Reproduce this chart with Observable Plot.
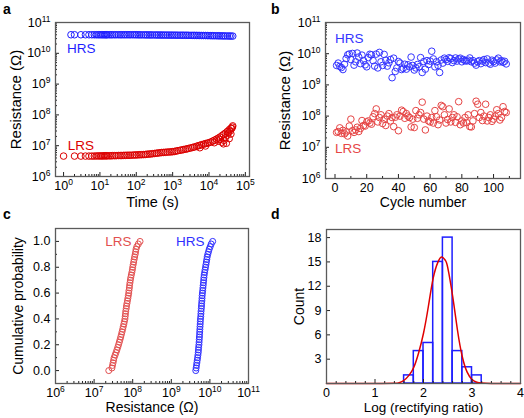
<!DOCTYPE html>
<html><head><meta charset="utf-8">
<script src="https://cdn.jsdelivr.net/npm/d3@7"></script>
<script src="https://cdn.jsdelivr.net/npm/@observablehq/plot@0.6"></script>
<style>
body{margin:0;background:#fff;}
#fig{position:relative;width:524px;height:418px;overflow:hidden;font-family:"Liberation Sans",Arial,sans-serif;}
#fig > div{position:absolute;line-height:0;}
#fig .lab{font-weight:bold;font-size:14px;line-height:14px;}
</style></head><body><div id="fig"></div>
<script>
// ---------- Panel a: retention ----------
const tLRS = [1,2,3,4,5,6,7,8,9,10,11,12,13,14,15,16,18,20,22,25,28,32,36,40,45,50,56,63,70,80,90,100,112,125,140,160,180,200,225,250,280,320,360,400,450,500,560,630,710,800,900,1000,1120,1250,1400,1600,1800,2000,2250,2500,2800,3200,3600,4000,4500,5000,5600,6300,7100,8000,9000,10000,11200,12500,14000,16000,18000,20000,22500,25000,28000,32000,36000,40000,45000];
const lrsA = [4.6e6,4.6e6,4.6e6,4.6e6,4.6e6,4.6e6,4.6e6,4.65e6,4.65e6,4.65e6,4.65e6,4.65e6,4.7e6,4.7e6,4.7e6,4.7e6,
  4.7e6,4.7e6,4.75e6,4.75e6,4.75e6,4.8e6,4.8e6,4.8e6,4.85e6,4.85e6,
  4.9e6,4.9e6,4.9e6,4.95e6,5.0e6,5.0e6,
  5.05e6,5.1e6,5.1e6,5.15e6,5.2e6,5.3e6,5.35e6,5.4e6,5.5e6,5.6e6,5.7e6,5.8e6,5.9e6,6.0e6,
  6.05e6,6.1e6,6.2e6,6.25e6,6.3e6,6.4e6,
  6.5e6,6.7e6,6.9e6,7.1e6,7.3e6,7.5e6,7.7e6,7.9e6,8.2e6,8.5e6,8.8e6,9.1e6,9.5e6,9.9e6,
  10.3e6,10.8e6,11.2e6,11.7e6,12.1e6,12.5e6,
  13.2e6,14.0e6,15.0e6,16.3e6,17.6e6,19.0e6,21.0e6,23.0e6,25.5e6,29e6,33e6,37e6,44e6];
const tLRSscatter = [5600,8000,14000,18000,20000,22500,25000,26000,28000,30000,32000,34000,36000,38000,40000,42000,44000];
const lrsScatter = [8.6e6,9.8e6,12.5e6,14e6,16e6,13e6,11.5e6,15e6,18e6,12e6,22e6,26e6,17e6,30e6,24e6,36e6,40e6];
const tHRS = [1.6,2,3,4,5,6,7,8,9,10,11,12,13,14,15,16,18,20,22,25,28,32,36,40,45,50,56,63,70,80,90,100,112,125,140,160,180,200,225,250,280,320,360,400,450,500,560,630,710,800,900,1000,1120,1250,1400,1600,1800,2000,2250,2500,2800,3200,3600,4000,4500,5000,5600,6300,7100,8000,9000,10000,11200,12500,14000,16000,18000,20000,22500,25000,28000,32000,36000,40000,45000];
const hrsA = [4.0e10,4.0e10,4.0e10,4.0e10,4.0e10,4.0e10,4.0e10,4.0e10,4.0e10,4.0e10,4.0e10,4.0e10,4.0e10,4.0e10,4.0e10,4.0e10,
  4.0e10,4.0e10,4.0e10,4.0e10,4.0e10,4.0e10,4.0e10,4.0e10,4.0e10,4.0e10,4.0e10,4.0e10,4.0e10,4.0e10,4.0e10,4.0e10,
  3.98e10,3.98e10,3.97e10,3.97e10,3.96e10,3.96e10,3.95e10,3.95e10,3.94e10,3.94e10,3.93e10,3.93e10,3.92e10,3.92e10,
  3.91e10,3.91e10,3.9e10,3.9e10,3.89e10,3.89e10,
  3.88e10,3.88e10,3.87e10,3.87e10,3.86e10,3.86e10,3.85e10,3.85e10,3.84e10,3.83e10,3.82e10,3.82e10,3.81e10,3.8e10,
  3.79e10,3.78e10,3.78e10,3.77e10,3.76e10,3.75e10,
  3.74e10,3.73e10,3.72e10,3.71e10,3.7e10,3.69e10,3.68e10,3.67e10,3.66e10,3.65e10,3.64e10,3.63e10,3.62e10];
const timeTicks = [1,10,100,1000,10000,100000];
const resTicks = [1e6,1e7,1e8,1e9,1e10,1e11];

// ---------- Panel b: endurance ----------
const cycles = [1,2,3,4,5,6,7,8,9,10,11,12,13,14,15,16,17,18,19,20,21,22,23,24,25,26,27,28,29,30,31,32,33,34,35,36,37,38,39,40,41,42,43,44,45,46,47,48,49,50,51,52,53,54,55,56,57,58,59,60,61,62,63,64,65,66,67,68,69,70,71,72,73,74,75,76,77,78,79,80,81,82,83,84,85,86,87,88,89,90,91,92,93,94,95,96,97,98,99,100,101,102,103,104,105,106,107,108];
const hrsB = [4.2e9,5.0e9,3.9e9,3.6e9,3.1e9,4.6e9,7.0e9,9.2e9,9.8e9,6.5e9,
  10.2e9,4.3e9,5.5e9,10.5e9,7.8e9,4.8e9,9.0e9,6.0e9,4.4e9,3.8e9,
  7.5e9,9.6e9,9.2e9,6.0e9,4.0e9,9.7e9,3.5e9,11.0e9,5.5e9,4.2e9,
  9.5e9,6.2e9,4.0e9,5.1e9,6.5e9,1.7e9,7.2e9,2.7e9,3.5e9,5.6e9,
  5.0e9,3.1e9,3.4e9,4.6e9,3.2e9,4.4e9,3.8e9,7.8e9,4.2e9,3.0e9,
  3.5e9,4.5e9,3.8e9,7.5e9,2.5e9,5.6e9,3.2e9,6.0e9,4.5e9,5.8e9,
  12.0e9,6.8e9,3.8e9,5.5e9,4.2e9,2.5e9,6.3e9,5.0e9,7.2e9,6.5e9,
  5.7e9,7.4e9,7.0e9,5.2e9,6.0e9,7.3e9,5.8e9,6.8e9,7.2e9,5.5e9,
  6.5e9,6.0e9,5.8e9,6.2e9,7.3e9,5.5e9,6.0e9,5.0e9,4.3e9,5.5e9,
  6.0e9,4.8e9,5.8e9,6.5e9,5.2e9,6.8e9,5.0e9,4.6e9,6.2e9,5.6e9,
  5.0e9,6.3e9,7.2e9,5.5e9,6.0e9,5.3e9,5.7e9,4.7e9];
const lrsB = [3.0e7,3.2e7,4.2e7,2.8e7,3.5e7,2.7e7,3.1e7,2.3e7,4.8e7,8.0e7,
  3.4e7,3.0e7,3.6e7,4.4e7,3.2e7,4.0e7,7.2e7,5.0e7,4.8e7,6.5e7,
  7.0e7,6.0e7,5.5e7,9.5e7,12.0e7,17.0e7,6.5e7,9.0e7,11.0e7,5.8e7,
  8.0e7,5.0e7,10.0e7,12.0e7,7.0e7,9.0e7,4.6e7,9.2e7,11.0e7,3.4e7,
  10.0e7,15.5e7,14.0e7,8.5e7,12.0e7,10.0e7,9.0e7,4.5e7,8.0e7,4.3e7,
  15.0e7,8.5e7,11.0e7,13.0e7,28.0e7,8.0e7,3.6e7,10.0e7,7.0e7,6.5e7,
  9.0e7,6.0e7,15.0e7,9.5e7,5.3e7,7.5e7,22.0e7,20.0e7,11.0e7,6.0e7,
  7.8e7,17.0e7,6.5e7,9.0e7,11.0e7,6.3e7,9.5e7,29.0e7,5.3e7,7.0e7,
  6.0e7,9.0e7,6.2e7,11.0e7,4.6e7,4.5e7,7.0e7,12.0e7,30.0e7,24.0e7,
  9.0e7,13.0e7,7.2e7,10.0e7,24.0e7,7.0e7,9.0e7,11.0e7,6.8e7,8.0e7,
  10.0e7,16.0e7,12.0e7,7.5e7,9.0e7,20.0e7,14.0e7,13.0e7];
const cycleTicks = [0,20,40,60,80,100];

// ---------- Panel c: cumulative probability ----------
const prob = [0,0.02,0.04,0.06,0.08,0.1,0.12,0.14,0.16,0.18,0.2,0.22,0.24,0.26,0.28,0.3,0.32,0.34,0.36,0.38,0.4,0.42,0.44,0.46,0.48,0.5,0.52,0.54,0.56,0.58,0.6,0.62,0.64,0.66,0.68,0.7,0.72,0.74,0.76,0.78,0.8,0.82,0.84,0.86,0.88,0.9,0.92,0.94,0.96,0.98,1.0];
const lrsC = [2.4e7,2.9e7,3.0e7,3.1e7,3.2e7,3.3e7,3.5e7,3.7e7,3.9e7,4.1e7,
  4.3e7,4.5e7,4.7e7,4.9e7,5.1e7,5.3e7,5.5e7,5.7e7,5.9e7,6.1e7,
  6.3e7,6.4e7,6.5e7,6.6e7,6.8e7,6.9e7,7.1e7,7.3e7,7.5e7,7.7e7,
  7.9e7,8.0e7,8.2e7,8.3e7,8.5e7,8.7e7,8.9e7,9.2e7,9.5e7,9.8e7,
  10.0e7,10.3e7,10.6e7,10.9e7,11.2e7,11.6e7,11.9e7,12.2e7,12.8e7,14.0e7,15.5e7];
const hrsC = [4.3e9,4.4e9,4.5e9,4.6e9,4.7e9,4.8e9,4.9e9,5.0e9,5.05e9,5.1e9,
  5.2e9,5.25e9,5.3e9,5.35e9,5.4e9,5.45e9,5.5e9,5.55e9,5.6e9,5.65e9,
  5.7e9,5.8e9,5.85e9,5.9e9,6.0e9,6.05e9,6.1e9,6.2e9,6.25e9,6.3e9,
  6.4e9,6.5e9,6.6e9,6.7e9,6.8e9,6.9e9,7.0e9,7.1e9,7.3e9,7.5e9,
  7.7e9,7.9e9,8.1e9,8.3e9,8.5e9,8.8e9,9.2e9,9.6e9,10.2e9,10.8e9,11.8e9];
const probTicks = [0,0.2,0.4,0.6,0.8,1.0];

// ---------- Panel d: histogram ----------
const binEdges = [1.6,1.8,2.0,2.2,2.4,2.6,2.8,3.0,3.2];
const counts = [1,4,5,15,18,4,2,1];
const fitX = [0,1.0,1.4,1.5,1.6,1.7,1.8,1.9,2.0,2.1,2.2,2.3,2.38,2.45,2.5,2.6,2.7,2.8,2.9,3.0,3.1,3.2,3.4,4.0];
const fitY = [0,0,0.02,0.1,0.4,1.0,2.0,3.8,6.2,9.5,13.0,15.0,15.6,15.2,14.3,10.8,6.6,3.3,1.4,0.5,0.15,0.05,0,0];
const logTicks = [0,1,2,3,4];
const countTicks = [3,6,9,12,15,18];

// ---------- helpers ----------
const FONT = '"Liberation Sans", Arial, sans-serif';
const pow10 = d => "10^" + Math.round(Math.log10(d));
function logMinor(lo, hi) { const o = []; for (let e = lo; e < hi; e++) for (let k = 2; k <= 9; k++) o.push(k * 10 ** e); return o; }
const style = {fontFamily: FONT, fontSize: "12.5px", overflow: "visible", background: "transparent", color: "#000"};
const frameColor = "#5a5a5a";
function ticksX(vals, len, ih) { return Plot.tickX(vals, {x: d => d, insetTop: ih - len, stroke: "#222", strokeWidth: 1}); }
function ticksY(vals, len, iw) { return Plot.tickY(vals, {y: d => d, insetRight: iw - len, stroke: "#222", strokeWidth: 1}); }
function xTitle(t, dy, fs) { return Plot.text([t], {frameAnchor: "bottom", lineAnchor: "middle", textAnchor: "middle", dy, fontSize: fs, fill: "#000"}); }
function yTitle(t, dx, fs) { return Plot.text([t], {frameAnchor: "left", lineAnchor: "middle", textAnchor: "middle", dx, rotate: -90, fontSize: fs, fill: "#000"}); }

// turn "10^11" into 10 with a real superscript
function superscripts(svg) {
  svg.querySelectorAll("text").forEach(t => {
    const m = /^10\^(-?\d+)$/.exec(t.textContent);
    if (!m) return;
    t.textContent = "10";
    const s = document.createElementNS("http://www.w3.org/2000/svg", "tspan");
    s.setAttribute("dy", "-5");
    s.setAttribute("font-size", "8.5");
    s.textContent = m[1];
    t.appendChild(s);
  });
  return svg;
}

const fig = document.getElementById("fig");
function place(node, left, top) { const d = document.createElement("div"); d.style.left = left + "px"; d.style.top = top + "px"; d.appendChild(superscripts(node)); fig.appendChild(d); }
function letter(t, left, top) { const d = document.createElement("div"); d.className = "lab"; d.textContent = t; d.style.left = left + "px"; d.style.top = top + "px"; fig.appendChild(d); }

// ---------- draw a ----------
{
  const W = 262, H = 205, L = 55, R = 13, T = 22, B = 29, iw = W - L - R, ih = H - T - B;
  const blue = "#1e1eff", red = "#dc0000";
  place(Plot.plot({
    width: W, height: H, marginLeft: L, marginRight: R, marginTop: T, marginBottom: B, style,
    x: {type: "log", domain: [0.6, 1.3e5]},
    y: {type: "log", domain: [1e6, 1e11]},
    marks: [
      Plot.dot(tHRS.map((t, i) => ({t, v: hrsA[i]})), {x: "t", y: "v", r: 3.3, stroke: blue, strokeWidth: 1}),
      Plot.dot(tLRS.map((t, i) => ({t, v: lrsA[i]})), {x: "t", y: "v", r: 3.3, stroke: red, strokeWidth: 1}),
      Plot.dot(tLRSscatter.map((t, i) => ({t, v: lrsScatter[i]})), {x: "t", y: "v", r: 3.3, stroke: red, strokeWidth: 1}),
      Plot.text(["HRS"], {x: 1.25, y: 1.4e10, textAnchor: "start", fill: blue, fontSize: 13.5}),
      Plot.text(["LRS"], {x: 1.3, y: 1.0e7, textAnchor: "start", fill: red, fontSize: 13.5}),
      ticksX(timeTicks, 4, ih), ticksX(logMinor(0, 5), 2, ih),
      ticksY(resTicks, 4, iw), ticksY(logMinor(6, 11), 2, iw),
      Plot.axisX({ticks: timeTicks, tickSize: 0, tickPadding: 5, tickFormat: pow10, label: null}),
      Plot.axisY({ticks: resTicks, tickSize: 0, tickPadding: 5, tickFormat: pow10, label: null}),
      Plot.frame({stroke: frameColor, strokeWidth: 1.3}),
      xTitle("Time (s)", 26, 14.5), yTitle("Resistance (Ω)", -39, 15)
    ]
  }), 0, 0);
  letter("a", 3, 2);
}

// ---------- draw b ----------
{
  const W = 262, H = 205, L = 63, R = 4, T = 22, B = 27, iw = W - L - R, ih = H - T - B;
  const blue = "#3535ff", red = "#e64545";
  place(Plot.plot({
    width: W, height: H, marginLeft: L, marginRight: R, marginTop: T, marginBottom: B, style,
    x: {domain: [-6, 117]},
    y: {type: "log", domain: [1e6, 1e11]},
    marks: [
      Plot.dot(cycles.map((c, i) => ({c, v: hrsB[i]})), {x: "c", y: "v", r: 3.3, stroke: blue, strokeWidth: 1}),
      Plot.dot(cycles.map((c, i) => ({c, v: lrsB[i]})), {x: "c", y: "v", r: 3.3, stroke: red, strokeWidth: 1}),
      Plot.text(["HRS"], {x: 0, y: 3e10, textAnchor: "start", fill: blue, fontSize: 13.5}),
      Plot.text(["LRS"], {x: 0, y: 9.3e6, textAnchor: "start", fill: red, fontSize: 13.5}),
      ticksX(cycleTicks, 4, ih), ticksX([10,30,50,70,90,110], 2, ih),
      ticksY(resTicks, 4, iw), ticksY(logMinor(6, 11), 2, iw),
      Plot.axisX({ticks: cycleTicks, tickSize: 0, tickPadding: 5, tickFormat: d => String(d), label: null}),
      Plot.axisY({ticks: resTicks, tickSize: 0, tickPadding: 5, tickFormat: pow10, label: null}),
      Plot.frame({stroke: frameColor, strokeWidth: 1.3}),
      xTitle("Cycle number", 24, 14), yTitle("Resistance (Ω)", -40, 15)
    ]
  }), 262, 0);
  letter("b", 271, 2);
}

// ---------- draw c ----------
{
  const W = 262, H = 213, L = 55, R = 14, T = 23, B = 35, iw = W - L - R, ih = H - T - B;
  const blue = "#3030ff", red = "#e25050";
  place(Plot.plot({
    width: W, height: H, marginLeft: L, marginRight: R, marginTop: T, marginBottom: B, style,
    x: {type: "log", domain: [1e6, 1e11]},
    y: {domain: [-0.1, 1.1]},
    marks: [
      Plot.dot(prob.map((p, i) => ({p, v: lrsC[i]})), {x: "v", y: "p", r: 3, stroke: red, strokeWidth: 1}),
      Plot.dot(prob.map((p, i) => ({p, v: hrsC[i]})), {x: "v", y: "p", r: 3, stroke: blue, strokeWidth: 1}),
      Plot.text(["LRS"], {x: 9.3e7, y: 1.0, textAnchor: "end", fill: red, fontSize: 13.5}),
      Plot.text(["HRS"], {x: 7.2e9, y: 1.0, textAnchor: "end", fill: blue, fontSize: 13.5}),
      ticksX(resTicks, 4, ih), ticksX(logMinor(6, 11), 2, ih),
      ticksY(probTicks, 4, iw), ticksY([0.1,0.3,0.5,0.7,0.9], 2, iw),
      Plot.axisX({ticks: resTicks, tickSize: 0, tickPadding: 5, tickFormat: pow10, label: null}),
      Plot.axisY({ticks: probTicks, tickSize: 0, tickPadding: 5, tickFormat: d3.format(".1f"), label: null}),
      Plot.frame({stroke: frameColor, strokeWidth: 1.3}),
      xTitle("Resistance (Ω)", 24, 14), yTitle("Cumulative probability", -37, 14)
    ]
  }), 0, 205);
  letter("c", 3, 207);
}

// ---------- draw d ----------
{
  const W = 262, H = 213, L = 64, R = 4, T = 24, B = 35, iw = W - L - R, ih = H - T - B;
  const blue = "#1e1eff", red = "#e00000";
  const bins = counts.map((c, i) => ({x1: binEdges[i], x2: binEdges[i + 1], c}));
  place(Plot.plot({
    width: W, height: H, marginLeft: L, marginRight: R, marginTop: T, marginBottom: B, style,
    x: {domain: [0, 4]},
    y: {domain: [0, 19]},
    marks: [
      Plot.rect(bins, {x1: "x1", x2: "x2", y1: 0, y2: "c", stroke: blue, strokeWidth: 1.5, fill: "none"}),
      Plot.line(fitX.map((x, i) => ({x, y: fitY[i]})), {x: "x", y: "y", stroke: red, strokeWidth: 1.5, curve: "natural"}),
      ticksX(logTicks, 4, ih), ticksX(binEdges.concat([0.2,0.4,0.6,0.8,1.2,1.4,3.4,3.6,3.8]), 2, ih),
      ticksY(countTicks, 4, iw),
      Plot.axisX({ticks: logTicks, tickSize: 0, tickPadding: 5, tickFormat: d => String(d), label: null}),
      Plot.axisY({ticks: countTicks, tickSize: 0, tickPadding: 5, tickFormat: d => String(d), label: null}),
      Plot.frame({stroke: frameColor, strokeWidth: 1.3}),
      xTitle("Log (rectifying ratio)", 24, 13.5), yTitle("Count", -27, 14)
    ]
  }), 262, 205);
  letter("d", 271, 207);
}
</script></body></html>
